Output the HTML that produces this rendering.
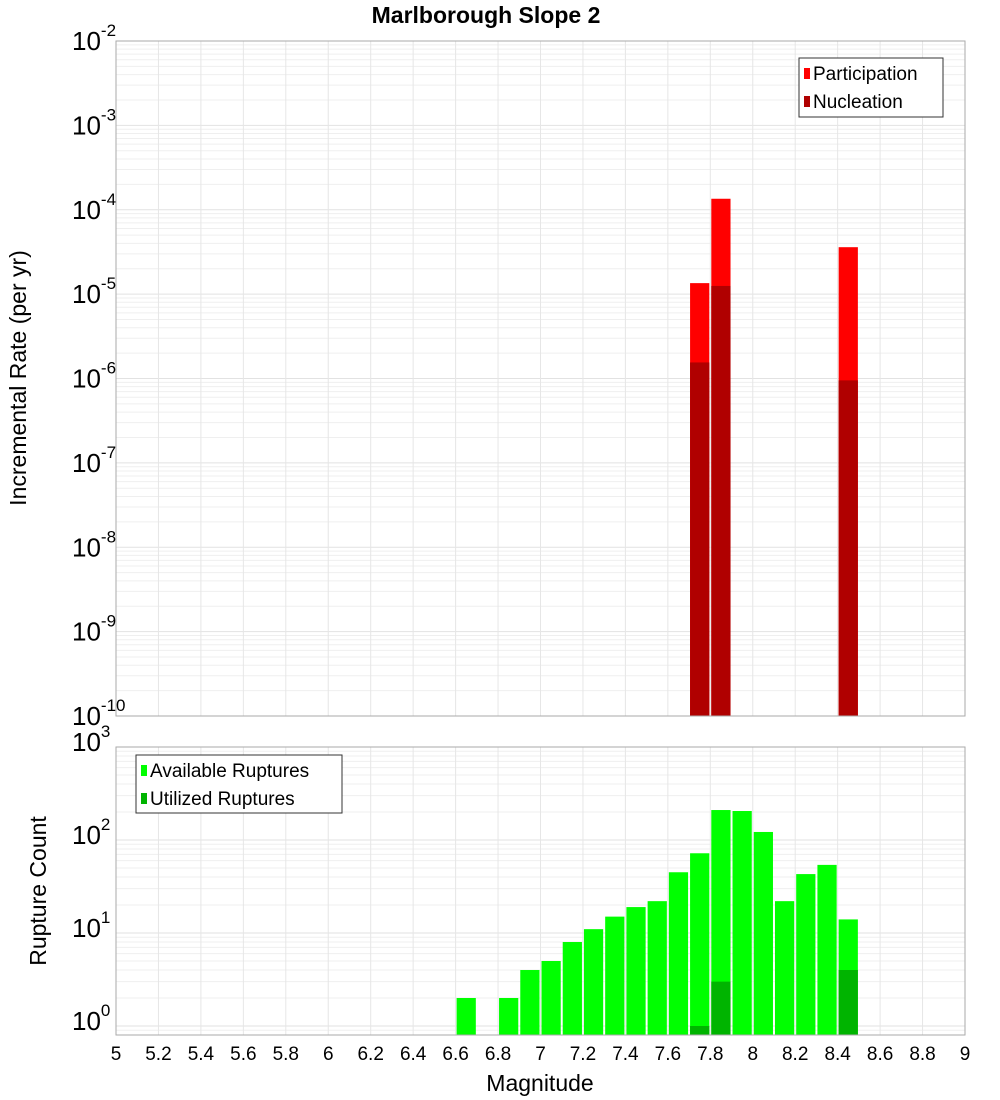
<!DOCTYPE html>
<html><head><meta charset="utf-8"><style>
body{margin:0;background:#fff;}
svg{display:block;font-family:"Liberation Sans","DejaVu Sans",sans-serif;}
</style></head><body>
<svg id="chart" width="1000" height="1100"></svg>
<script>
const binCenters = [7.75, 7.85, 8.45];
const participation = [1.35e-5, 1.35e-4, 3.6e-5];
const nucleation = [1.55e-6, 1.25e-5, 9.5e-7];
const countBins = [6.65,6.85,6.95,7.05,7.15,7.25,7.35,7.45,7.55,7.65,7.75,7.85,7.95,8.05,8.15,8.25,8.35,8.45];
const available = [2,2,4,5,8,11,15,19,22,45,72,210,205,122,22,43,54,14];
const utilBins = [7.75,7.85,8.45];
const utilized = [1,3,4];
const xTicks = [5,5.2,5.4,5.6,5.8,6,6.2,6.4,6.6,6.8,7,7.2,7.4,7.6,7.8,8,8.2,8.4,8.6,8.8,9];
const topExps = [-2,-3,-4,-5,-6,-7,-8,-9,-10];
const botExps = [3,2,1,0];

const NS="http://www.w3.org/2000/svg";
const svg=document.getElementById('chart');
function mk(tag,attrs,parent){const e=document.createElementNS(NS,tag);for(const k in attrs)e.setAttribute(k,attrs[k]);(parent||svg).appendChild(e);return e;}
const X0=116,X1=965;
const x=m=>X0+(m-5)/4*(X1-X0);
const TY0=41,TY1=716; // 1e-2 .. 1e-10
const yT=v=>TY0+(-2-Math.log10(v))*(TY1-TY0)/8;
const BTOP=747,BBOT=1035,B0=1026,DEC=93;
const yB=v=>B0-Math.log10(v)*DEC;

// grid
const grid=mk('g',{});


for(let e=-10;e<-2;e++)for(let k=1;k<10;k++){const yy=yT(k*Math.pow(10,e));mk('line',{x1:X0,x2:X1,y1:yy,y2:yy,stroke:k==1?'#e2e2e2':'#efefef','stroke-width':1},grid);}
for(let e=-1;e<3;e++)for(let k=1;k<10;k++){const yy=yB(k*Math.pow(10,e));if(yy>BBOT||yy<BTOP)continue;mk('line',{x1:X0,x2:X1,y1:yy,y2:yy,stroke:k==1?'#e2e2e2':'#efefef','stroke-width':1},grid);}
xTicks.forEach(t=>{mk('line',{x1:x(t),x2:x(t),y1:TY0,y2:TY1,stroke:'#e6e6e6'},grid);mk('line',{x1:x(t),x2:x(t),y1:BTOP,y2:BBOT,stroke:'#e6e6e6'},grid);});

// top bars
binCenters.forEach((c,i)=>{
 const b=mk('rect',{x:x(c-0.05)+1,width:x(c+0.05)-x(c-0.05)-2,y:yT(participation[i]),height:TY1-yT(participation[i]),fill:'#ff0000'});
 
 
 const n=mk('rect',{x:x(c-0.05)+1,width:x(c+0.05)-x(c-0.05)-2,y:yT(nucleation[i]),height:TY1-yT(nucleation[i]),fill:'#b00000'});
 
 
});
// bottom bars
countBins.forEach((c,i)=>{
 const b=mk('rect',{x:x(c-0.05)+1,width:x(c+0.05)-x(c-0.05)-2,y:yB(available[i]),height:BBOT-yB(available[i]),fill:'#00ff00'});
 
 
});
utilBins.forEach((c,i)=>{
 const b=mk('rect',{x:x(c-0.05)+1,width:x(c+0.05)-x(c-0.05)-2,y:yB(utilized[i]),height:BBOT-yB(utilized[i]),fill:'#00b400'});
 
 
});
// frames
mk('rect',{x:X0,y:TY0,width:X1-X0,height:TY1-TY0,fill:'none',stroke:'#aaa'});
mk('rect',{x:X0,y:BTOP,width:X1-X0,height:BBOT-BTOP,fill:'none',stroke:'#aaa'});

// y tick labels
function expLabel(yy,e,name){
 const t=mk('text',{x:108,y:yy+9,'text-anchor':'end','font-size':26,fill:'#000'});
 
 
 const a=document.createElementNS(NS,'tspan');a.textContent='10';t.appendChild(a);
 const s=document.createElementNS(NS,'tspan');s.setAttribute('dy','-14');s.setAttribute('font-size','17');s.textContent=e;t.appendChild(s);
 t.setAttribute('text-anchor','start');t.setAttribute('x',72);
}
topExps.forEach(e=>expLabel(yT(Math.pow(10,e)),e,'top-y-tick-label'));
botExps.forEach(e=>expLabel(yB(Math.pow(10,e))-5,e,'bottom-y-tick-label'));
xTicks.forEach(t=>{const l=mk('text',{x:x(t),y:1060,'text-anchor':'middle','font-size':19,fill:'#000'});l.textContent=t;
 
 });

// titles
function txt(s,attrs,name){const t=mk('text',attrs);t.textContent=s;return t;}
txt('Marlborough Slope 2',{x:486,y:23,'text-anchor':'middle','font-size':23,'font-weight':'bold'},'chart-title');
txt('Magnitude',{x:540,y:1091,'text-anchor':'middle','font-size':23},'x-axis-title');
txt('Incremental Rate (per yr)',{x:0,y:0,'text-anchor':'middle','font-size':23,transform:'translate(26,378) rotate(-90)'},'top-y-axis-title');
txt('Rupture Count',{x:0,y:0,'text-anchor':'middle','font-size':23,transform:'translate(46,891) rotate(-90)'},'bottom-y-axis-title');

// legends
function legend(x0,y0,w,h,items,name){
 const g=mk('g',{});
 mk('rect',{x:x0,y:y0,width:w,height:h,fill:'#fff',stroke:'#333'},g);
 items.forEach((it,i)=>{
  const cy=y0+15+i*28;
  mk('rect',{x:x0+5,y:cy-5,width:6,height:11,fill:it[1]},g);
  const t=mk('text',{x:x0+14,y:cy+7,'font-size':19},g);t.textContent=it[0];
  
  
 });
}
legend(799,58,144,59,[['Participation','#ff0000'],['Nucleation','#b00000']],'top-legend');
legend(136,755,206,58,[['Available Ruptures','#00ff00'],['Utilized Ruptures','#00b400']],'bottom-legend');
</script>
</body></html>
